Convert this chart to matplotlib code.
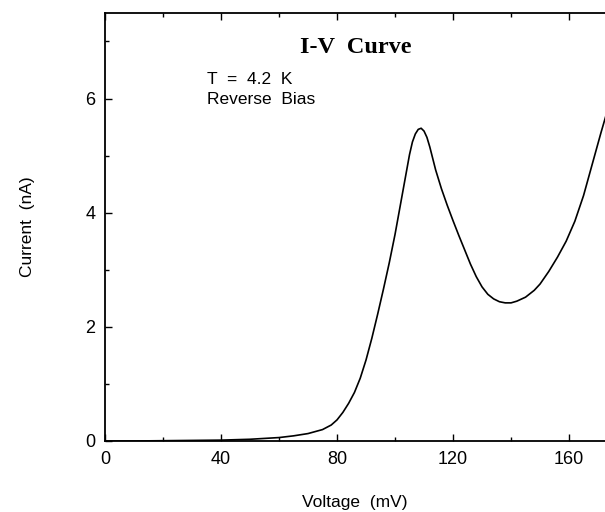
import matplotlib
matplotlib.use("Agg")
import matplotlib.pyplot as plt
from matplotlib.ticker import MultipleLocator

# I-V curve
voltage_mV = [0, 10, 20, 30, 40, 50, 60, 65, 70, 75, 78, 80, 82, 84, 86, 88,
              90, 92, 94, 96, 98, 100, 102, 104, 105, 106, 107, 108, 109, 110,
              111, 112, 113, 114, 116, 118, 120, 122, 124, 126, 128, 130, 132,
              134, 136, 138, 140, 142, 145, 148, 150, 153, 156, 159, 162, 165,
              168, 171, 173]
current_nA = [0.0, 0.0, 0.005, 0.01, 0.015, 0.03, 0.06, 0.09, 0.13, 0.2, 0.28,
              0.37, 0.5, 0.66, 0.85, 1.1, 1.42, 1.8, 2.22, 2.66, 3.12, 3.62,
              4.18, 4.74, 5.02, 5.24, 5.38, 5.46, 5.48, 5.43, 5.32, 5.15, 4.95,
              4.75, 4.42, 4.13, 3.86, 3.6, 3.35, 3.1, 2.88, 2.7, 2.57, 2.49,
              2.44, 2.42, 2.42, 2.45, 2.52, 2.64, 2.75, 2.97, 3.22, 3.5, 3.85,
              4.3, 4.85, 5.4, 5.75]

title_text = "I-V  Curve"
note_lines = ["T  =  4.2  K", "Reverse  Bias"]

plt.rcParams['font.family'] = ['Liberation Sans', 'DejaVu Sans']

fig = plt.figure(figsize=(6.05, 5.12), dpi=100)
ax = fig.add_axes([0.1736, 0.1387, 0.8264, 0.836])

ax.plot(voltage_mV, current_nA, color='black', linewidth=1.2)

ax.set_xlim(0, 172.4)
ax.set_ylim(0, 7.5)
ax.xaxis.set_major_locator(MultipleLocator(40))
ax.xaxis.set_minor_locator(MultipleLocator(20))
ax.yaxis.set_major_locator(MultipleLocator(2))
ax.yaxis.set_minor_locator(MultipleLocator(1))
ax.tick_params(which='both', direction='in', top=True, right=False,
               labelsize=13, width=1.0, pad=7)
ax.tick_params(which='major', length=5)
ax.tick_params(which='minor', length=3)
ax.spines['right'].set_visible(False)
for side in ['left', 'bottom', 'top']:
    ax.spines[side].set_linewidth(1.3)

ax.set_xlabel("Voltage  (mV)", fontsize=12.5, labelpad=20)
ax.set_ylabel("Current  (nA)", fontsize=12.5, labelpad=36)

ax.text(86.5, 6.9, title_text, fontsize=17.5, fontweight='bold',
        family='Liberation Serif', ha='center', va='center')
ax.text(35.2, 6.33, note_lines[0], fontsize=12.5, ha='left', va='center')
ax.text(35.2, 5.98, note_lines[1], fontsize=12.5, ha='left', va='center')

fig.savefig("out.png", dpi=100)
